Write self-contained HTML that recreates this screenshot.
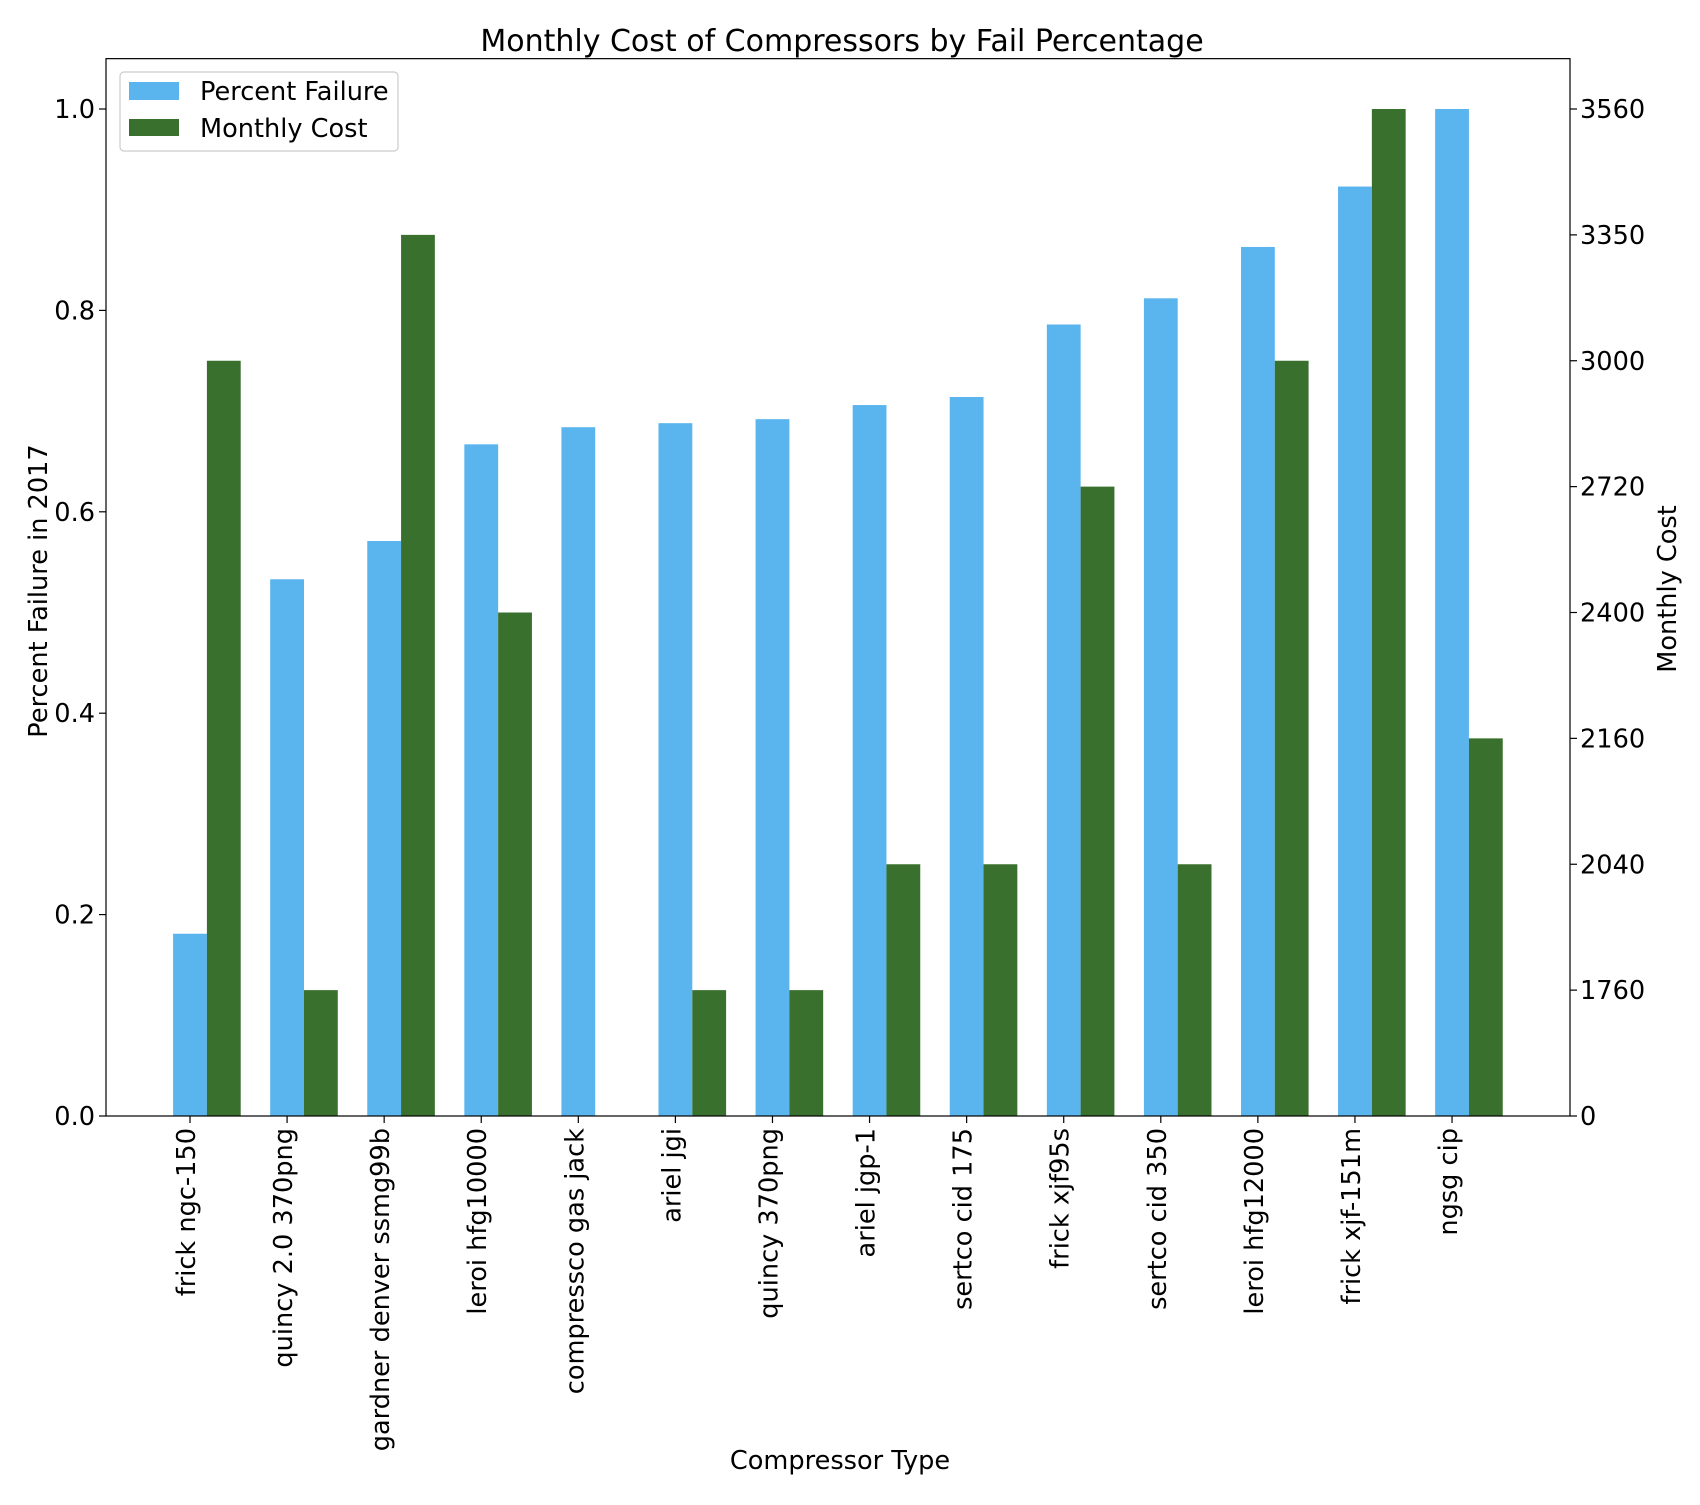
<!DOCTYPE html>
<html><head><meta charset="utf-8"><style>
body{margin:0;background:#fff}
svg text{font-family:"DejaVu Sans","Liberation Sans",sans-serif;fill:#000}
</style></head><body>
<svg id="chart" width="1700" height="1500" xmlns="http://www.w3.org/2000/svg"></svg>
<script>
const categories=["frick ngc-150","quincy 2.0 370png","gardner denver ssmg99b","leroi hfg10000","compressco gas jack","ariel jgi","quincy 370png","ariel jgp-1","sertco cid 175","frick xjf95s","sertco cid 350","leroi hfg12000","frick xjf-151m","ngsg cip"];
const percentFailure=[0.181,0.533,0.571,0.667,0.684,0.688,0.692,0.706,0.714,0.786,0.812,0.863,0.923,1.0];
const monthlyCost=[3000,1760,3350,2400,0,1760,1760,2040,2040,2720,2040,3000,3560,2160];
const leftTicks=[0.0,0.2,0.4,0.6,0.8,1.0];
const costTicks=[0,1760,2040,2160,2400,2720,3000,3350,3560];

const svg=document.getElementById('chart');
const NS='http://www.w3.org/2000/svg';
const L=106,R=1570,B=1116,Y1=109;
const T=B-1.05*(B-Y1);
const yScale=v=>B-v*(B-Y1);
const xScale=i=>190+97.08*i;
const bw=33.8;
const FS=25.6;
const costPos=c=>costTicks.indexOf(c)/(costTicks.length-1);
function mk(tag,attrs,parent){const e=document.createElementNS(NS,tag);for(const k in attrs)e.setAttribute(k,attrs[k]);(parent||svg).appendChild(e);return e;}

let t=mk('text',{x:842,y:51,'text-anchor':'middle','font-size':30});
t.textContent='Monthly Cost of Compressors by Fail Percentage';



categories.forEach((c,i)=>{
  const x=xScale(i);
  const v=percentFailure[i];
  let r=mk('rect',{x:x-bw/2,y:yScale(v),width:bw,height:B-yScale(v),fill:'#5ab4ee'});
  
  
  const cv=costPos(monthlyCost[i]);
  let r2=mk('rect',{x:x+bw/2,y:yScale(cv),width:bw,height:B-yScale(cv),fill:'#3a702e'});
  
  
  mk('line',{x1:x,x2:x,y1:B,y2:B+7,stroke:'#000','stroke-width':1.2});
  let lt=mk('text',{x:0,y:0,'font-size':FS,'text-anchor':'end',transform:`translate(${x+5},${B+12}) rotate(-90)`});
  lt.textContent=c;
  
  
});

let fr=mk('rect',{x:L,y:T,width:R-L,height:B-T,fill:'none',stroke:'#000','stroke-width':1.2});



leftTicks.forEach(v=>{
  const y=yScale(v);
  mk('line',{x1:L-7,x2:L,y1:y,y2:y,stroke:'#000','stroke-width':1.2});
  let tx=mk('text',{x:L-11,y:y+9,'text-anchor':'end','font-size':FS});
  tx.textContent=v.toFixed(1);
  
  
});
costTicks.forEach((c,k)=>{
  const y=yScale(k/(costTicks.length-1));
  mk('line',{x1:R,x2:R+7,y1:y,y2:y,stroke:'#000','stroke-width':1.2});
  let tx=mk('text',{x:R+10,y:y+9,'text-anchor':'start','font-size':FS});
  tx.textContent=c;
  
  
});

let yl=mk('text',{x:0,y:0,'font-size':FS,'text-anchor':'middle',transform:`translate(47,591) rotate(-90)`});
yl.textContent='Percent Failure in 2017';


let yr=mk('text',{x:0,y:0,'font-size':FS,'text-anchor':'middle',transform:`translate(1676,589) rotate(-90)`});
yr.textContent='Monthly Cost';


let xl=mk('text',{x:840,y:1469,'font-size':FS,'text-anchor':'middle'});
xl.textContent='Compressor Type';



const lg=mk('g',{});


mk('rect',{x:120,y:72,width:278,height:79,rx:4,fill:'#fff',stroke:'#ccc','stroke-width':1.2},lg);
mk('rect',{x:129,y:82,width:50,height:18,fill:'#5ab4ee'},lg);
mk('rect',{x:129,y:119,width:50,height:17,fill:'#3a702e'},lg);
let l1=mk('text',{x:200,y:100,'font-size':FS},lg);l1.textContent='Percent Failure';


let l2=mk('text',{x:200,y:137,'font-size':FS},lg);l2.textContent='Monthly Cost';


</script>
</body></html>
